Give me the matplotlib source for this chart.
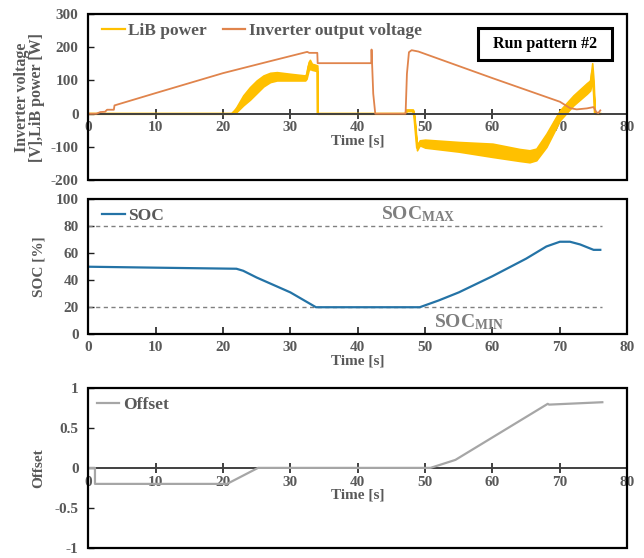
"""Plot inverter voltage, LiB power, SOC and offset for run pattern #2."""

import matplotlib.pyplot as plt
from matplotlib.lines import Line2D
from matplotlib.patches import Rectangle

# Inverter output voltage [V]
voltage_time = [0, 1.2, 1.8, 2.5, 2.8, 3.8, 3.9, 10, 20, 27, 32.5, 32.8, 34.0, 34.05, 42.0, 42.05,
                42.3, 42.6, 47.1, 47.3, 47.6, 48.0, 49.0, 60.0, 70.0, 71.5, 72.5, 74.0, 75.0, 75.4, 75.7, 76.0]
voltage = [0, 0, 5, 6, 12, 12, 25, 62, 122, 158, 186, 183, 183, 152, 152, 193,
           60, 0, 0, 120, 185, 191, 187, 107, 36, 17, 13, 16, 20, 5, 2, 10]

# LiB power [W]: lower and upper envelope of the oscillating trace
lib_time = [0, 21.3, 22, 23, 24, 25, 26, 27, 28, 30, 32.2, 32.4, 32.7, 32.9, 33.2, 33.6, 34.0, 34.05,
            47.1, 47.2, 48.2, 48.4, 48.8, 49.2, 50, 55, 60, 64, 65.5, 66.5, 68, 70, 72, 74, 74.5, 74.8,
            75.0, 75.2, 76]
lib_low = [0, 0, 5, 25, 42, 62, 82, 95, 100, 100, 100, 105, 130, 135, 132, 130, 128, 0,
           0, 8, 8, -15, -110, -95, -102, -114, -130, -142, -146, -140, -100, -20, 25, 60, 70, 100,
           60, 0, 0]
lib_high = [0, 0, 20, 55, 80, 100, 115, 123, 125, 120, 115, 120, 155, 162, 150, 148, 145, 0,
            0, 12, 12, -5, -95, -80, -78, -85, -90, -106, -110, -105, -60, 10, 55, 92, 100, 152,
            100, 0, 0]

# State of charge [%]
soc_time = [0, 10, 22, 23, 25, 30, 33.8, 49.2, 52, 55, 60, 65, 68, 70, 71.5, 73, 75, 76]
soc = [50, 49.3, 48.5, 47, 42, 31, 20, 20, 25, 31, 43, 56, 65, 68.5, 68.5, 66.5, 62.5, 62.5]
soc_max, soc_min = 80, 20

# Offset
offset_time = [0, 1, 1, 20.6, 25.2, 50.8, 54.5, 68.2, 68.4, 76.3]
offset = [0, 0, -0.2, -0.2, 0, 0, 0.1, 0.8, 0.79, 0.82]

time_ticks = [0, 10, 20, 30, 40, 50, 60, 70, 80]

TEXT_GRAY = "#595959"
plt.rcParams["font.family"] = ["Liberation Serif", "DejaVu Serif"]
plt.rcParams["font.weight"] = "bold"
plt.rcParams["axes.labelweight"] = "bold"
plt.rcParams["mathtext.fontset"] = "custom"
plt.rcParams["mathtext.rm"] = "Liberation Serif:bold"
plt.rcParams["mathtext.it"] = "Liberation Serif:bold"
plt.rcParams["mathtext.bf"] = "Liberation Serif:bold"


def _style_axis(axis, ylim, yticks, yticklabels, zero_axis):
    axis.set_xlim(0, 80)
    axis.set_ylim(*ylim)
    axis.set_xticks(time_ticks)
    axis.set_yticks(yticks)
    axis.set_yticklabels(yticklabels)
    for spine in axis.spines.values():
        spine.set_visible(False)
    axis.add_patch(Rectangle((0, 0), 1, 1, transform=axis.transAxes, fill=False,
                             edgecolor="black", linewidth=1.6, zorder=5, clip_on=False))
    if zero_axis:
        axis.spines["bottom"].set_visible(True)
        axis.spines["bottom"].set_position(("data", 0))
        axis.spines["bottom"].set_color("#404040")
        axis.spines["bottom"].set_linewidth(1.4)
        axis.tick_params(axis="x", direction="inout", length=7, width=1.2, color="#202020", pad=2)
    else:
        axis.tick_params(axis="x", direction="in", length=5, width=1.2, color="#202020", pad=5)
    axis.tick_params(axis="y", direction="in", length=4, width=1.0, color="#202020", pad=7)
    axis.tick_params(labelsize=11, labelcolor=TEXT_GRAY)
    axis.set_xlabel("Time [s]", fontsize=11, color=TEXT_GRAY, labelpad=0)
    axis.yaxis.set_label_coords(-0.08, 0.5)


def main() -> None:
    figure = plt.figure(figsize=(6.44, 5.58), dpi=100)
    ax_power = figure.add_axes([0.137, 0.677, 0.837, 0.298])
    ax_soc = figure.add_axes([0.137, 0.401, 0.837, 0.242])
    ax_offset = figure.add_axes([0.137, 0.018, 0.837, 0.287])

    # Top: voltage and LiB power
    lib_mid = [(lo + hi) / 2 for lo, hi in zip(lib_low, lib_high)]
    ax_power.fill_between(lib_time, lib_low, lib_high, color="#FFC000", linewidth=1.2, zorder=2)
    ax_power.plot(lib_time, lib_mid, color="#FFC000", linewidth=1.6, zorder=2)
    ax_power.plot(voltage_time, voltage, color="#E0844C", linewidth=1.3, zorder=3)
    _style_axis(ax_power, (-200, 300), [-200, -100, 0, 100, 200, 300],
                ["-200", "-100", "0", "100", "200", "300"], zero_axis=True)
    ax_power.set_ylabel("Inverter voltage\n[V],LiB power [W]", fontsize=11.5, color=TEXT_GRAY,
                        linespacing=0.95)
    handles = [Line2D([], [], color="#FFC000", linewidth=1.6),
               Line2D([], [], color="#E0844C", linewidth=1.6)]
    ax_power.legend(handles, ["LiB power", "Inverter output voltage"], loc="upper left", ncol=2,
                    frameon=False, fontsize=12.5, labelcolor=TEXT_GRAY, handlelength=1.3,
                    handletextpad=0.2, columnspacing=0.9, borderaxespad=0.1, bbox_to_anchor=(0.01, 1.0))
    ax_power.add_patch(Rectangle((0.724, 0.723), 0.248, 0.193, transform=ax_power.transAxes,
                                 fill=False, edgecolor="black", linewidth=2.2, zorder=6))
    ax_power.text(0.848, 0.82, "Run pattern #2", transform=ax_power.transAxes, fontsize=11.5,
                  color="black", ha="center", va="center", zorder=7)

    # Middle: state of charge with limits
    ax_soc.plot([0, 76.3], [soc_max, soc_max], color="#808080", linestyle=(0, (3, 2.5)), linewidth=1.0)
    ax_soc.plot([0, 76.3], [soc_min, soc_min], color="#808080", linestyle=(0, (3, 2.5)), linewidth=1.0)
    ax_soc.plot(soc_time, soc, color="#2473A6", linewidth=1.6, label="SOC")
    _style_axis(ax_soc, (0, 100), [0, 20, 40, 60, 80, 100],
                ["0", "20", "40", "60", "80", "100"], zero_axis=False)
    ax_soc.set_ylabel("SOC [%]", fontsize=11, color=TEXT_GRAY)
    ax_soc.legend(loc="upper left", frameon=False, fontsize=12.5, labelcolor=TEXT_GRAY,
                  handlelength=1.3, handletextpad=0.2, borderaxespad=0.1, bbox_to_anchor=(0.01, 1.0))
    ax_soc.text(49, soc_max + 2, r"SOC$_{\mathrm{MAX}}$", fontsize=14, color="#7F7F7F",
                ha="center", va="bottom")
    ax_soc.text(56.5, soc_min - 3.5, r"SOC$_{\mathrm{MIN}}$", fontsize=14, color="#7F7F7F",
                ha="center", va="top")

    # Bottom: offset
    ax_offset.plot(offset_time, offset, color="#A6A6A6", linewidth=1.6, label="Offset", zorder=3)
    _style_axis(ax_offset, (-1, 1), [-1, -0.5, 0, 0.5, 1], ["-1", "-0.5", "0", "0.5", "1"],
                zero_axis=True)
    ax_offset.set_ylabel("Offset", fontsize=11, color=TEXT_GRAY)
    ax_offset.legend(loc="upper left", frameon=False, fontsize=12.5, labelcolor=TEXT_GRAY,
                     handlelength=1.3, handletextpad=0.2, borderaxespad=0.1, bbox_to_anchor=(0.0, 1.0))

    figure.savefig("out.png", dpi=100)


if __name__ == "__main__":
    main()
